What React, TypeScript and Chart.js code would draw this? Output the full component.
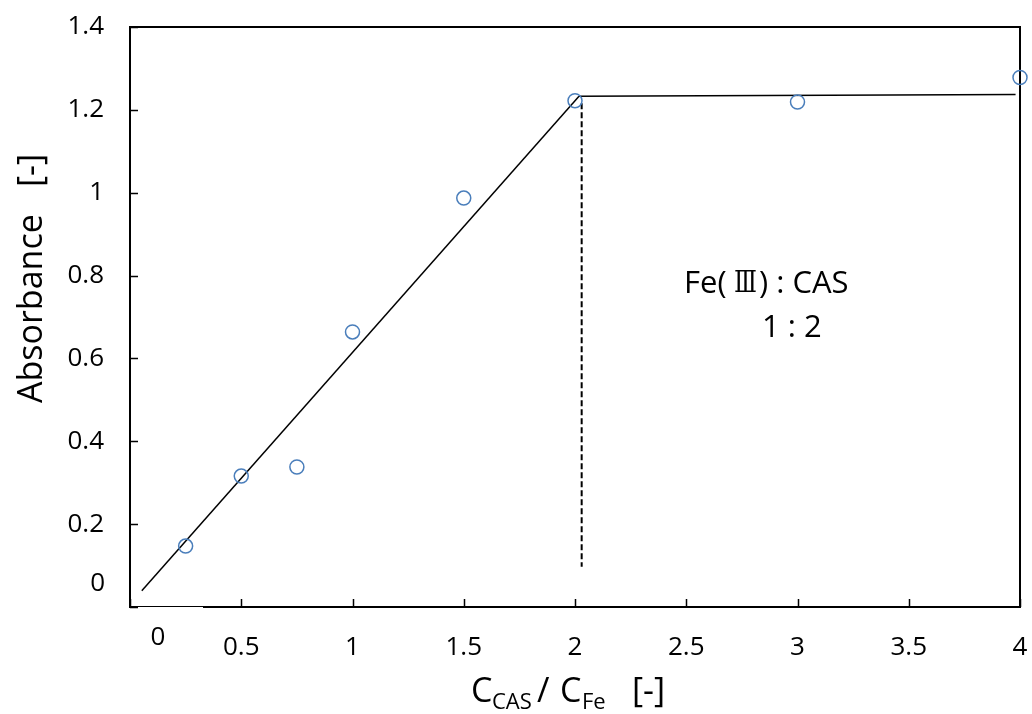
import { useEffect, useRef } from "react";
import { Chart, registerables } from "chart.js";

Chart.register(...registerables);

const FONT = "'Open Sans', 'Noto Sans', sans-serif";
const ROMAN_FONT = "'DejaVu Serif', 'DejaVu Sans', serif";

// measured data points (C_CAS / C_Fe, absorbance)
const ratioValues = [0.25, 0.5, 0.75, 1, 1.5, 2, 3, 4];
const absorbanceValues = [0.147, 0.316, 0.338, 0.664, 0.987, 1.222, 1.219, 1.278];

// rising fit line
const riseX = [0.053, 2.018];
const riseY = [0.039, 1.233];
// plateau fit line
const plateauX = [2.018, 3.98];
const plateauY = [1.233, 1.237];
// dashed marker at the equivalence ratio
const markerX = [2.03, 2.03];
const markerY = [1.216, 0.097];

// axes
const xTickValues = [0, 0.5, 1, 1.5, 2, 2.5, 3, 3.5, 4];
const yTickValues = [0, 0.2, 0.4, 0.6, 0.8, 1, 1.2, 1.4];
const zeroLabel = "0";

// text
const yTitleMain = "Absorbance";
const yTitleUnit = "[-]";
const xTitleC1 = "C";
const xTitleSub1 = "CAS";
const xTitleSlash = "/";
const xTitleC2 = "C";
const xTitleSub2 = "Fe";
const xTitleUnit = "[-]";
const noteFe = "Fe(";
const noteRoman = "Ⅲ";
const noteRest = ") : CAS";
const noteLine2 = "1 : 2";

const pts = (xs: number[], ys: number[]) => xs.map((x, i) => ({ x, y: ys[i] }));
const fmt = (v: number) => (v === 0 ? "" : String(Number(v.toFixed(1))));
const zeroPad = (scale: any) => {
  scale.paddingLeft = 0;
  scale.paddingRight = 0;
  scale.paddingTop = 0;
  scale.paddingBottom = 0;
};

const decorPlugin = {
  id: "decor",
  beforeDatasetsDraw(chart: any) {
    const { ctx, chartArea: a, scales } = chart;
    ctx.save();
    ctx.strokeStyle = "#000";
    ctx.lineWidth = 2;
    ctx.strokeRect(a.left, a.top, a.right - a.left, a.bottom - a.top);
    // white label box covering part of the bottom border
    ctx.fillStyle = "#fff";
    ctx.fillRect(a.left + 1, a.bottom, 72, 1.5);
    ctx.lineWidth = 1.5;
    ctx.beginPath();
    scales.x.ticks.forEach((t: any) => {
      const px = Math.round(scales.x.getPixelForValue(t.value)) + 0.5;
      ctx.moveTo(px, a.bottom);
      ctx.lineTo(px, a.bottom - 8);
    });
    scales.y.ticks.forEach((t: any) => {
      const py = Math.round(scales.y.getPixelForValue(t.value)) + 0.5;
      ctx.moveTo(a.left, py);
      ctx.lineTo(a.left + 8, py);
    });
    ctx.stroke();
    ctx.restore();
  },
  afterDraw(chart: any) {
    const { ctx } = chart;
    ctx.save();
    ctx.fillStyle = "#000";
    // zero labels (separate text boxes in the original)
    ctx.font = `26px ${FONT}`;
    ctx.textBaseline = "middle";
    ctx.textAlign = "right";
    ctx.fillText(zeroLabel, 105, 584);
    ctx.textAlign = "center";
    ctx.fillText(zeroLabel, 158, 638);

    // annotation
    ctx.textAlign = "left";
    ctx.textBaseline = "alphabetic";
    ctx.font = `31px ${FONT}`;
    ctx.fillText(noteFe, 684, 293);
    // wide (full-width style) roman numeral
    ctx.save();
    ctx.font = `30px ${ROMAN_FONT}`;
    const rw = ctx.measureText(noteRoman).width || 1;
    ctx.translate(734, 292);
    ctx.scale(23 / rw, 1);
    ctx.fillText(noteRoman, 0, 0);
    ctx.restore();
    ctx.font = `31px ${FONT}`;
    ctx.fillText(noteRest, 759, 293);
    ctx.fillText(noteLine2, 762, 337);

    // x title
    ctx.font = `34px ${FONT}`;
    ctx.fillText(xTitleC1, 471, 702);
    ctx.fillText(xTitleSlash, 537, 702);
    ctx.fillText(xTitleC2, 560, 702);
    ctx.fillText(xTitleUnit, 632, 702);
    ctx.font = `22px ${FONT}`;
    ctx.fillText(xTitleSub1, 492, 709);
    ctx.fillText(xTitleSub2, 582, 709);

    // y title
    ctx.translate(42, 403);
    ctx.rotate(-Math.PI / 2);
    ctx.font = `34px ${FONT}`;
    ctx.fillText(yTitleMain, 0, 0);
    ctx.fillText(yTitleUnit, 216, 0);
    ctx.restore();
  },
};

export default function App() {
  const canvasRef = useRef<HTMLCanvasElement | null>(null);

  useEffect(() => {
    if (!canvasRef.current) return;
    const chart = new Chart(canvasRef.current, {
      type: "scatter",
      data: {
        datasets: [
          {
            label: "Absorbance",
            data: pts(ratioValues, absorbanceValues),
            showLine: false,
            pointStyle: "circle",
            pointRadius: 7,
            pointBorderWidth: 1.5,
            pointBorderColor: "#4a7ebb",
            pointBackgroundColor: "rgba(255,255,255,0)",
            clip: false,
          },
          {
            label: "rise",
            data: pts(riseX, riseY),
            showLine: true,
            borderColor: "#000",
            borderWidth: 1.5,
            pointRadius: 0,
            clip: false,
          },
          {
            label: "plateau",
            data: pts(plateauX, plateauY),
            showLine: true,
            borderColor: "#000",
            borderWidth: 1.5,
            pointRadius: 0,
            clip: false,
          },
          {
            label: "marker",
            data: pts(markerX, markerY),
            showLine: true,
            borderColor: "#000",
            borderWidth: 2,
            borderDash: [6, 3],
            pointRadius: 0,
            clip: false,
          },
        ],
      },
      options: {
        responsive: false,
        animation: false,
        events: [],
        layout: { padding: { top: 27, right: 12, left: 0, bottom: 0 } },
        plugins: {
          legend: { display: false },
          tooltip: { enabled: false },
          title: { display: false },
        },
        scales: {
          x: {
            type: "linear",
            position: "bottom",
            min: 0,
            max: 4,
            grid: { display: false, drawTicks: false },
            border: { display: false },
            afterBuildTicks: (scale: any) => {
              scale.ticks = xTickValues.map((v) => ({ value: v }));
            },
            afterFit: (scale: any) => {
              scale.height = 107;
              zeroPad(scale);
            },
            ticks: {
              autoSkip: false,
              maxRotation: 0,
              padding: 25,
              color: "#000",
              font: { family: FONT, size: 26 },
              callback: (v: any) => fmt(Number(v)),
            },
          },
          y: {
            type: "linear",
            position: "left",
            min: 0,
            max: 1.4,
            grid: { display: false, drawTicks: false },
            border: { display: false },
            afterBuildTicks: (scale: any) => {
              scale.ticks = yTickValues.map((v) => ({ value: v }));
            },
            afterFit: (scale: any) => {
              scale.width = 130;
              zeroPad(scale);
            },
            ticks: {
              autoSkip: false,
              padding: 26,
              color: "#000",
              font: { family: FONT, size: 26 },
              callback: (v: any) => fmt(Number(v)),
            },
          },
        },
      },
      plugins: [decorPlugin],
    } as any);
    return () => chart.destroy();
  }, []);

  return (
    <div style={{ position: "absolute", left: 0, top: 0, width: 1032, height: 714, background: "#fff" }}>
      <canvas ref={canvasRef} width={1032} height={714} style={{ display: "block" }} />
    </div>
  );
}
